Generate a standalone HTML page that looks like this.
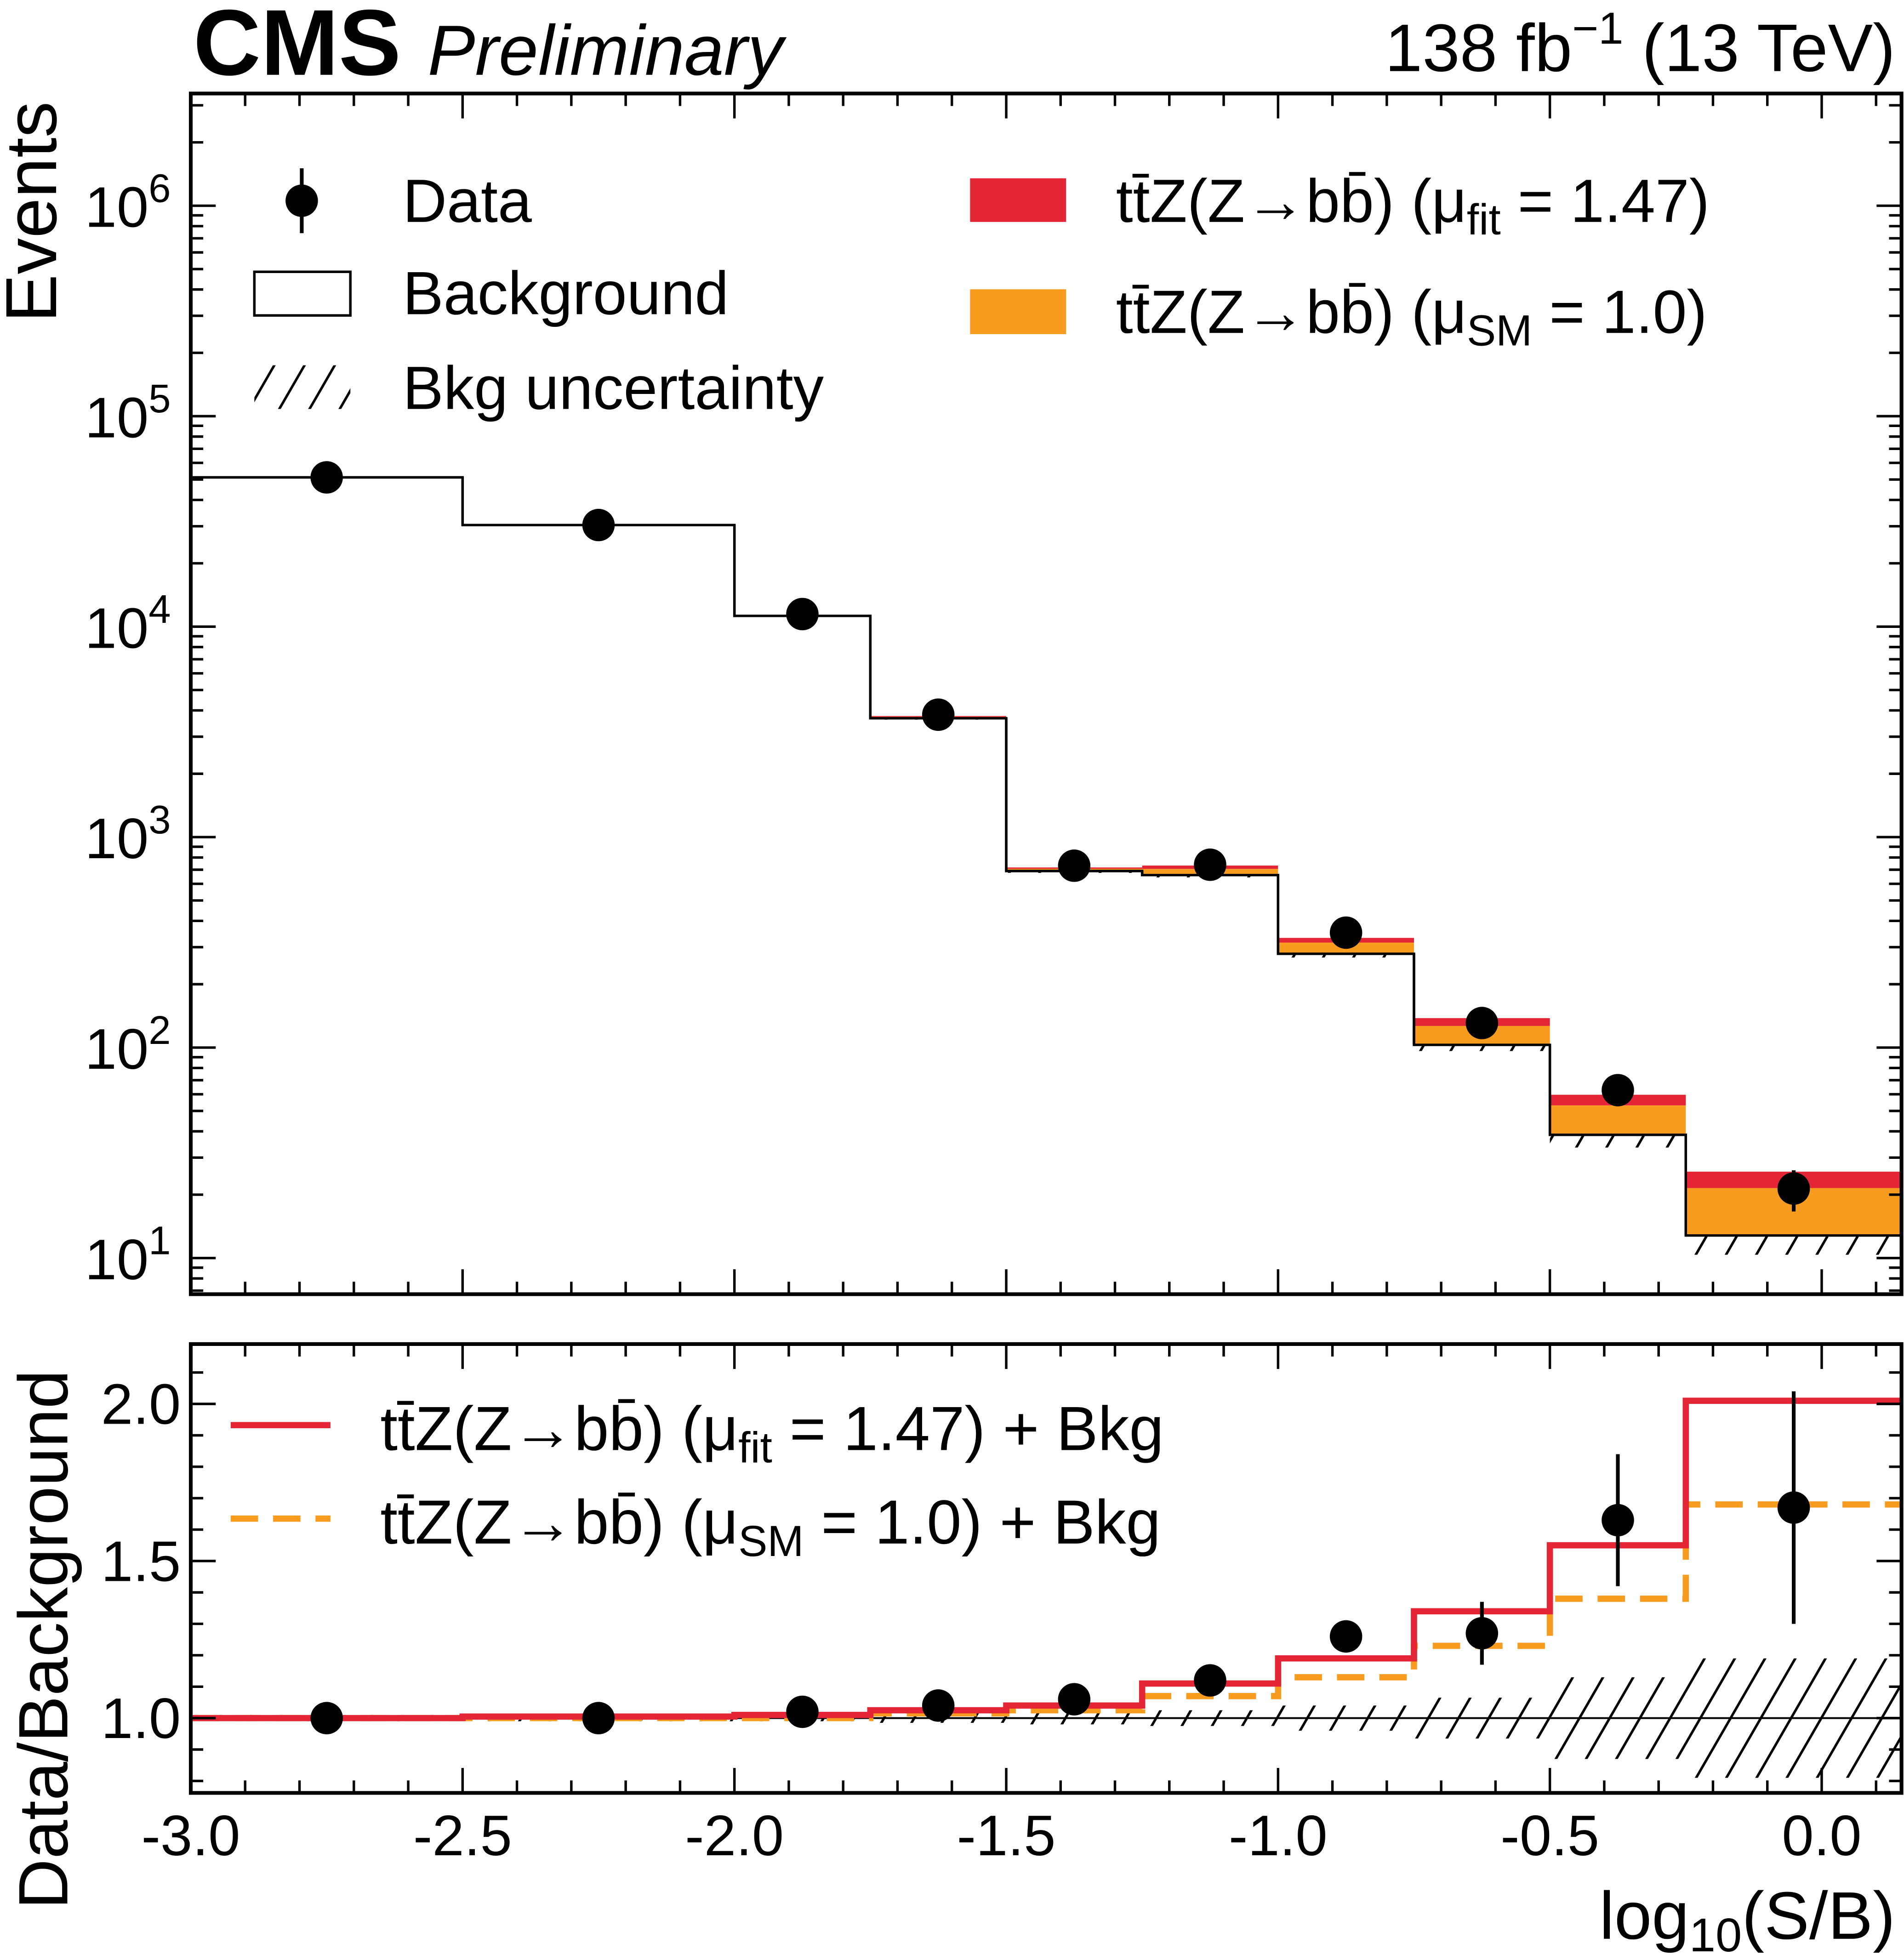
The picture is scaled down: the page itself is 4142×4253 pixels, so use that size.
<!DOCTYPE html>
<html><head><meta charset="utf-8"><style>
html,body{margin:0;padding:0;background:#fff;}
svg{display:block;font-family:"Liberation Sans",sans-serif;}
</style></head><body>
<svg id="c" width="4142" height="4253" viewBox="0 0 1527 1568" preserveAspectRatio="none" xmlns="http://www.w3.org/2000/svg">
<defs>
<pattern id="hatch" patternUnits="userSpaceOnUse" width="21" height="10" patternTransform="rotate(30)">
<line x1="1" y1="-2" x2="1" y2="12" stroke="#000" stroke-width="2"/>
</pattern>
</defs>
<g id="upper"></g><g id="lower"></g>
<text x="155" y="60" font-size="75" font-weight="bold">CMS</text>
<text x="343" y="60" font-size="57" font-style="italic">Preliminary</text>
<text x="1520" y="57" font-size="54" text-anchor="end">138 fb<tspan dy="-22" font-size="36">−1</tspan><tspan dy="22"> (13 TeV)</tspan></text>
<text transform="translate(45,170) rotate(-90)" font-size="58" text-anchor="middle">Events</text>
<text transform="translate(54,1315) rotate(-90)" font-size="56" text-anchor="middle">Data/Background</text>
<text x="1520" y="1555" font-size="54" text-anchor="end">log<tspan font-size="38" dy="10">10</tspan><tspan dy="-10">(S/B)</tspan></text>
<g font-size="49">
<g><line x1="242" y1="135" x2="242" y2="187" stroke="#000" stroke-width="3"/><circle cx="242" cy="161" r="13"/><text x="323" y="178">Data</text></g>
<g><rect x="204" y="218" width="77" height="35" fill="none" stroke="#000" stroke-width="2"/><text x="323" y="252">Background</text></g>
<g><rect x="204" y="293" width="77" height="35" fill="url(#hatch)"/><text x="323" y="328">Bkg uncertainty</text></g>
<g><rect x="778" y="143" width="77" height="35" fill="#e42536"/><text x="895" y="178">tt̄Z(Z→bb̄) (μ<tspan font-size="35" dy="10">fit</tspan><tspan dy="-10"> = 1.47)</tspan></text></g>
<g><rect x="778" y="232" width="77" height="36" fill="#f89c20"/><text x="895" y="267">tt̄Z(Z→bb̄) (μ<tspan font-size="35" dy="10">SM</tspan><tspan dy="-10"> = 1.0)</tspan></text></g>
<g><line x1="185" y1="1143" x2="265" y2="1143" stroke="#e42536" stroke-width="5"/><text x="305" y="1163" font-size="50">tt̄Z(Z→bb̄) (μ<tspan font-size="35" dy="10">fit</tspan><tspan dy="-10"> = 1.47) + Bkg</tspan></text></g>
<g><line x1="185" y1="1218" x2="265" y2="1218" stroke="#f89c20" stroke-width="5" stroke-dasharray="22,12"/><text x="305" y="1238" font-size="50">tt̄Z(Z→bb̄) (μ<tspan font-size="35" dy="10">SM</tspan><tspan dy="-10"> = 1.0) + Bkg</tspan></text></g>
</g>
</svg>
<script>
const edges=[-3,-2.5,-2,-1.75,-1.5,-1.25,-1,-0.75,-0.5,-0.25,0.147];
const bkg=[51200,30400,11250,3670,690,660,279,103,38.5,12.8];
const ratioFit=[1.0,1.005,1.01,1.025,1.04,1.11,1.19,1.34,1.55,2.01];
const ratioSM=[1.0,1.0,1.0,1.015,1.025,1.07,1.13,1.23,1.38,1.68];
const dataRatio=[1.0,1.0,1.02,1.04,1.06,1.12,1.26,1.27,1.63,1.67];
const dataErr=[0.002,0.003,0.006,0.01,0.025,0.03,0.045,0.1,0.21,0.37];
const bkgUnc=[0.01,0.01,0.01,0.015,0.02,0.025,0.04,0.065,0.13,0.19];
const xTicks=[-3.0,-2.5,-2.0,-1.5,-1.0,-0.5,0.0];
const yTickExp=[1,2,3,4,5,6];
const rTicks=[1.0,1.5,2.0];
const NS="http://www.w3.org/2000/svg";
const L=153,R=1525,UT=75,UB=1038,LT=1078,LB=1438;
const X=v=>L+(v+3)*436;
const Y=v=>165+(6-Math.log10(v))*168.8;
const RY=v=>1378-(v-1)*252;
const up=document.getElementById('upper'),lo=document.getElementById('lower');
function el(p,t,a){const e=document.createElementNS(NS,t);for(const k in a)e.setAttribute(k,a[k]);p.appendChild(e);return e;}
function clip(id,y1,y2){const c=el(document.querySelector('defs'),'clipPath',{id:id});el(c,'rect',{x:L,y:y1,width:R-L,height:y2-y1});}
clip('cu',UT,UB);clip('cl',LT,LB);
const gu=el(up,'g',{'clip-path':'url(#cu)'}),gl=el(lo,'g',{'clip-path':'url(#cl)'});
function steps(vals,f){let d='';for(let i=0;i<vals.length;i++){d+=(i?'L':'M')+X(edges[i])+','+f(vals[i])+'L'+X(edges[i+1])+','+f(vals[i]);}return d;}
for(let i=0;i<bkg.length;i++){
 const x1=X(edges[i]),w=X(edges[i+1])-x1;
 let h=el(gu,'rect',{x:x1,y:Y(bkg[i]*(1+bkgUnc[i])),width:w,height:Y(bkg[i]*(1-bkgUnc[i]))-Y(bkg[i]*(1+bkgUnc[i])),fill:'url(#hatch)'});
 
 let o=el(gu,'rect',{x:x1,y:Y(bkg[i]*ratioSM[i]),width:w,height:Y(bkg[i])-Y(bkg[i]*ratioSM[i]),fill:'#f89c20'});
 
 let r=el(gu,'rect',{x:x1,y:Y(bkg[i]*ratioFit[i]),width:w,height:Math.max(0,Y(bkg[i]*ratioSM[i])-Y(bkg[i]*ratioFit[i])),fill:'#e42536'});
 
 let hl=el(gl,'rect',{x:x1,y:RY(1+bkgUnc[i]),width:w,height:RY(1-bkgUnc[i])-RY(1+bkgUnc[i]),fill:'url(#hatch)'});
 
}
let bl=el(gu,'path',{d:steps(bkg,Y)+'L'+X(edges[10])+','+UB+'M'+X(edges[0])+','+Y(bkg[0]),fill:'none',stroke:'#000','stroke-width':2});

let d0='';for(let i=1;i<bkg.length;i++)d0+='M'+X(edges[i])+','+Y(bkg[i-1])+'L'+X(edges[i])+','+Y(bkg[i]);
el(gu,'path',{d:d0,stroke:'#000','stroke-width':2,fill:'none'});
let one=el(gl,'line',{x1:L,x2:R,y1:RY(1),y2:RY(1),stroke:'#000','stroke-width':1.5});

function vsteps(vals,f){let d='';for(let i=0;i<vals.length;i++){if(i)d+='L'+X(edges[i])+','+f(vals[i]);else d+='M'+X(edges[0])+','+f(vals[0]);d+='L'+X(edges[i+1])+','+f(vals[i]);}return d;}
let sm=el(gl,'path',{d:vsteps(ratioSM,RY),fill:'none',stroke:'#f89c20','stroke-width':5,'stroke-dasharray':'22,12'});

let fl=el(gl,'path',{d:vsteps(ratioFit,RY),fill:'none',stroke:'#e42536','stroke-width':5});

for(let i=0;i<bkg.length;i++){
 const cx=(X(edges[i])+X(edges[i+1]))/2;
 const v=bkg[i]*dataRatio[i],e=bkg[i]*dataErr[i];
 let g=el(gu,'g',{});
 el(g,'line',{x1:cx,x2:cx,y1:Y(v+e),y2:Y(v-e),stroke:'#000','stroke-width':3});
 el(g,'circle',{cx:cx,cy:Y(v),r:13});
 let g2=el(gl,'g',{});
 el(g2,'line',{x1:cx,x2:cx,y1:RY(dataRatio[i]+dataErr[i]),y2:RY(dataRatio[i]-dataErr[i]),stroke:'#000','stroke-width':3});
 el(g2,'circle',{cx:cx,cy:RY(dataRatio[i]),r:13});
}
for(const [t,b,n] of [[UT,UB,'upper-frame'],[LT,LB,'lower-frame']]){
 let f=el(document.getElementById('c'),'rect',{x:L,y:t,width:R-L,height:b-t,fill:'none',stroke:'#000','stroke-width':3});
 
}
const svg=document.getElementById('c');
const tk=el(svg,'g',{stroke:'#000','stroke-width':2});
for(let k=-30;k<=1;k++){const v=k/10,x=X(v);if(x>R)continue;const maj=(k%5===0);const len=maj?20:10;
 for(const [t,b] of [[UT,UB],[LT,LB]]){el(tk,'line',{x1:x,x2:x,y1:t,y2:t+len});el(tk,'line',{x1:x,x2:x,y1:b,y2:b-len});}}
for(let ex=0;ex<=6;ex++)for(let m=1;m<10;m++){const v=m*Math.pow(10,ex),y=Y(v);if(y<UT||y>UB)continue;const len=m===1?20:10;
 el(tk,'line',{x1:L,x2:L+len,y1:y,y2:y});el(tk,'line',{x1:R,x2:R-len,y1:y,y2:y});}
for(let k=8;k<=21;k++){const y=RY(k/10);if(y<LT||y>LB)continue;const len=(k%5===0)?20:10;
 el(tk,'line',{x1:L,x2:L+len,y1:y,y2:y});el(tk,'line',{x1:R,x2:R-len,y1:y,y2:y});}
for(const v of xTicks){let t=el(svg,'text',{x:X(v),y:1488,'font-size':46,'text-anchor':'middle'});t.textContent=v.toFixed(1);
 }
for(const e of yTickExp){let t=el(svg,'text',{x:68,y:Y(Math.pow(10,e))+17,'font-size':46});t.textContent='10';
 let s=el(t,'tspan',{dy:-20,'font-size':32});s.textContent=e;
 }
for(const v of rTicks){let t=el(svg,'text',{x:145,y:RY(v)+16,'font-size':46,'text-anchor':'end'});t.textContent=v.toFixed(1);
 }
</script>
</body></html>
